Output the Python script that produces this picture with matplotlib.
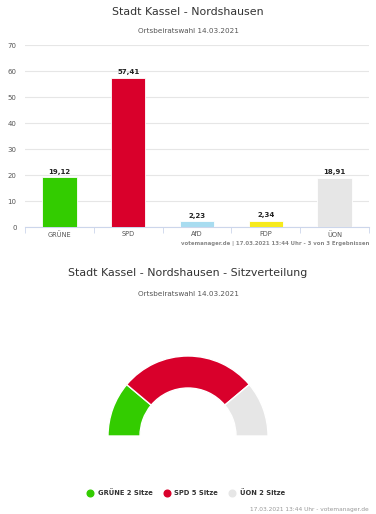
import matplotlib.pyplot as plt
from matplotlib.lines import Line2D

parties = ['GRÜNE', 'SPD', 'AfD', 'FDP', 'ÜON']
votes = [19.12, 57.41, 2.23, 2.34, 18.91]
colors = ['#33cc00', '#d9002b', '#a8dcf0', '#f7ea1c', '#e6e6e6']
yticks = [0, 10, 20, 30, 40, 50, 60, 70]

seat_parties = ['GRÜNE', 'SPD', 'ÜON']
seats = [2, 5, 2]
seat_colors = ['#33cc00', '#d9002b', '#e6e6e6']

W, H = 376, 514
fig = plt.figure(figsize=(W / 100, H / 100), dpi=100)
fig.patch.set_facecolor('white')
plt.rcParams['font.family'] = 'DejaVu Sans'

# --- bar chart ---
ax = fig.add_axes([25 / W, (H - 227) / H, 344 / W, 182 / H])
x = range(len(parties))
ax.bar(x, votes, width=0.5, color=colors, edgecolor='white', linewidth=0.6, zorder=3)
for i, v in enumerate(votes):
    ax.text(i, v + 1.0, f'{v:.2f}'.replace('.', ','), ha='center', va='bottom',
            fontsize=5, fontweight='bold', color='#222222')
ax.set_xlim(-0.5, len(parties) - 0.5)
ax.set_ylim(0, 70)
ax.set_yticks(yticks)
ax.grid(axis='y', color='#e6e6e6', linewidth=0.8, zorder=0)
ax.set_xticks(list(x))
ax.set_xticklabels(parties)
ax.set_xticks([i - 0.5 for i in range(len(parties) + 1)], minor=True)
ax.tick_params(axis='x', which='major', length=0, labelsize=4.8, colors='#555555', pad=3)
ax.tick_params(axis='x', which='minor', length=4, color='#ccd6eb', direction='out')
ax.tick_params(axis='y', length=0, labelsize=5, colors='#555555', pad=6)
for s in ['top', 'right', 'left']:
    ax.spines[s].set_visible(False)
ax.spines['bottom'].set_color('#ccd6eb')
ax.spines['bottom'].set_linewidth(0.8)

fig.text(188 / W, 1 - 12 / H, 'Stadt Kassel - Nordshausen', ha='center', va='center',
         fontsize=7.9, color='#333333')
fig.text(188 / W, 1 - 31 / H, 'Ortsbeiratswahl 14.03.2021', ha='center', va='center',
         fontsize=5.2, color='#555555')
fig.text(369 / W, 1 - 244 / H, 'votemanager.de | 17.03.2021 13:44 Uhr - 3 von 3 Ergebnissen',
         ha='right', va='center', fontsize=3.9, fontweight='bold', color='#888888')

# --- seat distribution ---
fig.text(188 / W, 1 - 273 / H, 'Stadt Kassel - Nordshausen - Sitzverteilung', ha='center',
         va='center', fontsize=7.9, color='#333333')
fig.text(188 / W, 1 - 294 / H, 'Ortsbeiratswahl 14.03.2021', ha='center', va='center',
         fontsize=5.2, color='#555555')

ax2 = fig.add_axes([0, 0, 1, 1])
ax2.patch.set_alpha(0)
wedges, _ = ax2.pie(seats + [sum(seats)], colors=seat_colors + ['none'], startangle=180,
                    counterclock=False, center=(188, H - 436), radius=80,
                    wedgeprops=dict(width=32, edgecolor='white', linewidth=1))
wedges[-1].set_edgecolor('none')
ax2.set_xlim(0, W)
ax2.set_ylim(0, H)
ax2.axis('off')

handles = [Line2D([], [], marker='o', linestyle='none', markersize=4.8, markerfacecolor=c,
                  markeredgecolor=c) for c in seat_colors]
labels = [f'{p} {s} Sitze' for p, s in zip(seat_parties, seats)]
fig.legend(handles, labels, loc='center', bbox_to_anchor=(186 / W, 21 / H), ncol=3,
           frameon=False, handletextpad=0.6, columnspacing=1.6, handlelength=1.0,
           prop=dict(size=4.9, weight='bold'), labelcolor='#333333')

fig.text(369 / W, 1 - 509 / H, '17.03.2021 13:44 Uhr - votemanager.de', ha='right',
         va='center', fontsize=4.2, color='#999999')

fig.savefig('out.png', dpi=100)
